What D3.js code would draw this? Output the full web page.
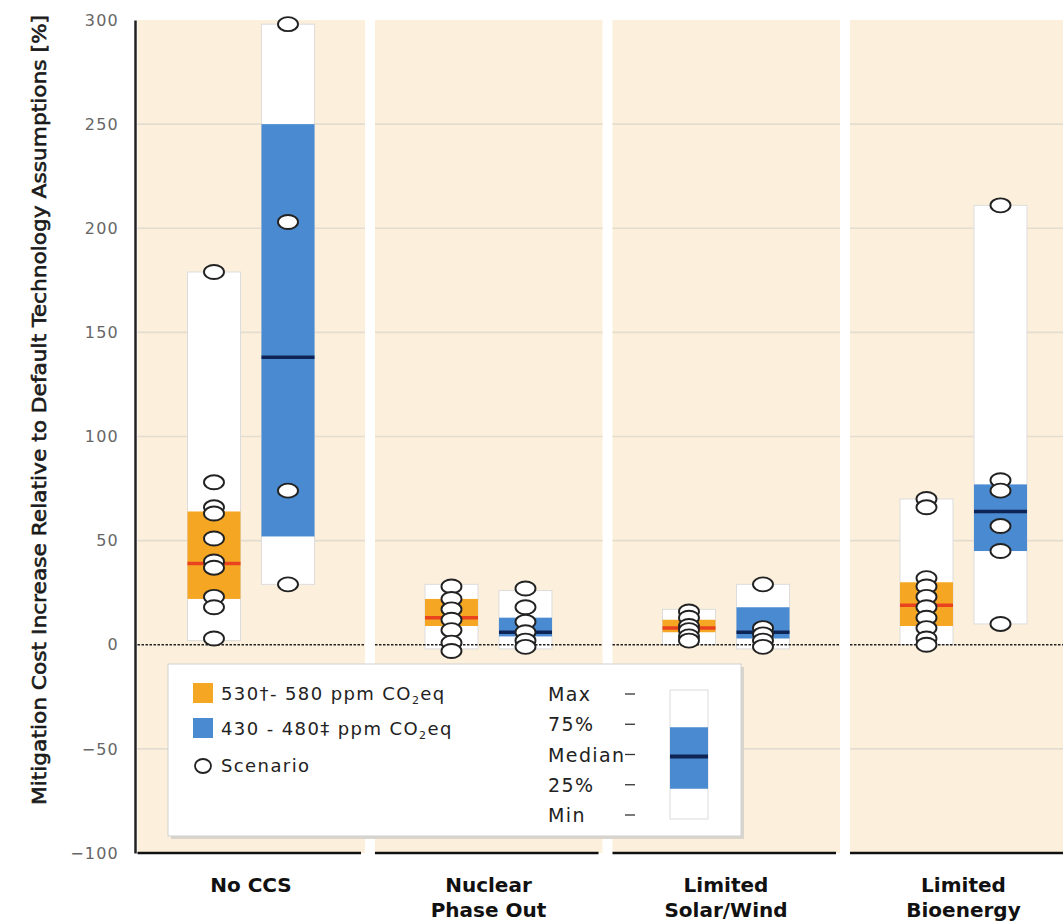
<!DOCTYPE html>
<html>
<head>
<meta charset="utf-8">
<script src="https://cdn.jsdelivr.net/npm/d3@7"></script>
<style>
  body { margin: 0; background: #fff; }
  svg { display: block; }
  .cond { font-family: "DejaVu Sans", sans-serif; }
</style>
</head>
<body>
<div id="chart"></div>
<script>
// categories and series
const categories = ["No CCS", "Nuclear Phase Out", "Limited Solar/Wind", "Limited Bioenergy"];
const categoryLines = [["No CCS"], ["Nuclear", "Phase Out"], ["Limited", "Solar/Wind"], ["Limited", "Bioenergy"]];
const series = ["530-580", "430-480"];

// 530-580 ppm box stats, one per category
const lowMin = [2, -2, 0, 0];
const lowQ1 = [22, 9, 6, 9];
const lowMed = [39, 13, 8, 19];
const lowQ3 = [64, 22, 12, 30];
const lowMax = [179, 29, 17, 70];

// 430-480 ppm box stats
const highMin = [29, -2, -2, 10];
const highQ1 = [52, 4, 3, 45];
const highMed = [138, 6, 6, 64];
const highQ3 = [250, 13, 18, 77];
const highMax = [298, 26, 29, 211];

// individual scenarios
const lowScenarios = [
  [179, 78, 66, 63, 51, 40, 37, 23, 18, 3],
  [28, 22, 17, 12, 7, 1, -3],
  [16, 13, 9, 7, 4, 2],
  [70, 66, 32, 28, 23, 18, 13, 8, 3, 0]
];
const highScenarios = [
  [298, 203, 74, 29],
  [27, 18, 11, 6, 2, -1],
  [29, 8, 5, 2, -1],
  [211, 79, 74, 57, 45, 10]
];

const yTicks = [300, 250, 200, 150, 100, 50, 0, -50, -100];
const legendLevels = ["Max", "75%", "Median", "25%", "Min"];

const colors = {
  "530-580": { fill: "#f5a623", median: "#e8421e" },
  "430-480": { fill: "#4a8ad0", median: "#0e2454" }
};

const width = 1063, height = 923;

const svg = d3.select("#chart").append("svg")
  .attr("width", width)
  .attr("height", height);

const y = d3.scaleLinear().domain([-100, 300]).range([853, 20]);

const x = d3.scaleBand()
  .domain(categories)
  .range([132.5, 1082.5])
  .paddingInner(0.042)
  .paddingOuter(0.021);

const xs = d3.scaleBand()
  .domain(series)
  .range([50, 177])
  .paddingInner(0.284);

// build rows for drawing
const boxes = [];
categories.forEach((c, i) => {
  boxes.push({ cat: c, s: "530-580", min: lowMin[i], q1: lowQ1[i], med: lowMed[i], q3: lowQ3[i], max: lowMax[i], pts: lowScenarios[i] });
  boxes.push({ cat: c, s: "430-480", min: highMin[i], q1: highQ1[i], med: highMed[i], q3: highQ3[i], max: highMax[i], pts: highScenarios[i] });
});

// panel backgrounds
svg.append("g").selectAll("rect")
  .data(categories)
  .join("rect")
  .attr("x", d => x(d))
  .attr("y", y(300))
  .attr("width", x.bandwidth())
  .attr("height", y(-100) - y(300))
  .attr("fill", "#fcf0dd");

// gridlines per panel
const grid = svg.append("g");
categories.forEach(c => {
  grid.selectAll(null)
    .data(yTicks.filter(t => t !== 0 && t !== -100 && t !== 300))
    .join("line")
    .attr("x1", x(c))
    .attr("x2", x(c) + x.bandwidth())
    .attr("y1", d => y(d))
    .attr("y2", d => y(d))
    .attr("stroke", "#e3dccf")
    .attr("stroke-width", 1.6);
});

// boxes
const bx = d => x(d.cat) + xs(d.s);
const bw = xs.bandwidth();
const g = svg.append("g");

g.selectAll("rect.range")
  .data(boxes)
  .join("rect")
  .attr("class", "range")
  .attr("x", bx)
  .attr("y", d => y(d.max))
  .attr("width", bw)
  .attr("height", d => y(d.min) - y(d.max))
  .attr("fill", "#fff")
  .attr("stroke", "#dcdcdc")
  .attr("stroke-width", 1);

g.selectAll("rect.iqr")
  .data(boxes)
  .join("rect")
  .attr("class", "iqr")
  .attr("x", bx)
  .attr("y", d => y(d.q3))
  .attr("width", bw)
  .attr("height", d => y(d.q1) - y(d.q3))
  .attr("fill", d => colors[d.s].fill);

g.selectAll("line.med")
  .data(boxes)
  .join("line")
  .attr("class", "med")
  .attr("x1", bx)
  .attr("x2", d => bx(d) + bw)
  .attr("y1", d => y(d.med))
  .attr("y2", d => y(d.med))
  .attr("stroke", d => colors[d.s].median)
  .attr("stroke-width", 3.5);

// zero line, dotted
categories.forEach(c => {
  svg.append("line")
    .attr("x1", x(c))
    .attr("x2", x(c) + x.bandwidth())
    .attr("y1", y(0))
    .attr("y2", y(0))
    .attr("stroke", "#222")
    .attr("stroke-width", 1.6)
    .attr("stroke-dasharray", "2.5,1.5");
});

// scenario markers
const pts = [];
boxes.forEach(b => b.pts.forEach(v => pts.push({ cat: b.cat, s: b.s, v: v })));
svg.append("g").selectAll("ellipse")
  .data(pts)
  .join("ellipse")
  .attr("cx", d => x(d.cat) + xs(d.s) + bw / 2)
  .attr("cy", d => y(d.v))
  .attr("rx", 10)
  .attr("ry", 7)
  .attr("fill", "#fff")
  .attr("stroke", "#222")
  .attr("stroke-width", 1.9);

// bottom axis segments
categories.forEach(c => {
  svg.append("line")
    .attr("x1", x(c))
    .attr("x2", x(c) + x.bandwidth() - 4)
    .attr("y1", y(-100))
    .attr("y2", y(-100))
    .attr("stroke", "#111")
    .attr("stroke-width", 2.5);
});

// category labels
svg.append("g").selectAll("text")
  .data(categories)
  .join("text")
  .attr("class", "cond")
  .attr("x", d => x(d) + xs("530-580") + (xs("430-480") + bw - xs("530-580")) / 2)
  .attr("y", 892)
  .attr("text-anchor", "middle")
  .attr("font-size", 20)
  .attr("font-weight", "bold")
  .attr("fill", "#111")
  .each(function (d, i) {
    d3.select(this).selectAll("tspan")
      .data(categoryLines[i])
      .join("tspan")
      .attr("x", d3.select(this).attr("x"))
      .attr("dy", (t, j) => j === 0 ? 0 : 25)
      .text(t => t);
  });

// y axis
const yAxis = svg.append("g")
  .attr("transform", "translate(135,0)")
  .call(d3.axisLeft(y).tickValues(yTicks).tickSize(0).tickPadding(16)
    .tickFormat(d => d < 0 ? "\u2212" + Math.abs(d) : d));
yAxis.select(".domain").attr("stroke", "#222").attr("stroke-width", 2.5);
yAxis.selectAll("text")
  .attr("font-family", "DejaVu Sans, sans-serif")
  .attr("font-size", 16)
  .attr("letter-spacing", 1.2)
  .attr("fill", "#666");

svg.append("text")
  .attr("class", "cond")
  .attr("transform", "translate(46,410) rotate(-90)")
  .attr("text-anchor", "middle")
  .attr("font-size", 20)
  .attr("fill", "#1a1a1a")
  .attr("stroke", "#1a1a1a")
  .attr("stroke-width", 0.6)
  .attr("textLength", 790)
  .attr("lengthAdjust", "spacingAndGlyphs")
  .text("Mitigation Cost Increase Relative to Default Technology Assumptions [%]");

// legend
const lg = svg.append("g").attr("transform", "translate(168,664)");
lg.append("rect")
  .attr("x", 3).attr("y", 3)
  .attr("width", 573).attr("height", 172)
  .attr("fill", "#d9d4cc");
lg.append("rect")
  .attr("width", 573).attr("height", 172)
  .attr("fill", "#fff")
  .attr("stroke", "#cfcfcf");

const legendItems = [
  { s: "530-580", pre: "530\u2020- 580  ppm CO", post: "eq" },
  { s: "430-480", pre: "430 - 480\u2021 ppm CO", post: "eq" }
];
legendItems.forEach((it, i) => {
  lg.append("rect")
    .attr("x", 25).attr("y", 19 + i * 35)
    .attr("width", 20).attr("height", 20)
    .attr("fill", colors[it.s].fill);
  const t = lg.append("text")
    .attr("x", 53).attr("y", 36 + i * 35)
    .attr("font-family", "DejaVu Sans, sans-serif")
    .attr("font-size", 18)
    .attr("letter-spacing", 1.4)
    .attr("fill", "#222");
  t.append("tspan").text(it.pre);
  t.append("tspan").attr("font-size", 11).attr("dy", 4).text("2");
  t.append("tspan").attr("dy", -4).text(it.post);
});
lg.append("ellipse")
  .attr("cx", 35).attr("cy", 102)
  .attr("rx", 8).attr("ry", 7)
  .attr("fill", "#fff").attr("stroke", "#222").attr("stroke-width", 1.8);
lg.append("text")
  .attr("x", 53).attr("y", 108)
  .attr("font-family", "DejaVu Sans, sans-serif")
  .attr("font-size", 18)
  .attr("letter-spacing", 1.4)
  .attr("fill", "#222")
  .text("Scenario");

const ly = d3.scalePoint().domain(legendLevels).range([30, 151]);
lg.selectAll("text.lvl")
  .data(legendLevels)
  .join("text")
  .attr("class", "lvl")
  .attr("x", 380)
  .attr("y", d => ly(d) + 7)
  .attr("font-family", "DejaVu Sans, sans-serif")
  .attr("font-size", 19)
  .attr("letter-spacing", 1.4)
  .attr("fill", "#222")
  .text(d => d);
lg.selectAll("line.dash")
  .data(legendLevels)
  .join("line")
  .attr("class", "dash")
  .attr("x1", 457).attr("x2", 467)
  .attr("y1", d => ly(d)).attr("y2", d => ly(d))
  .attr("stroke", "#333").attr("stroke-width", 1.3);
lg.append("rect")
  .attr("x", 502).attr("y", ly("Max") - 4)
  .attr("width", 38).attr("height", ly("Min") - ly("Max") + 8)
  .attr("fill", "#fff").attr("stroke", "#dcdcdc");
lg.append("rect")
  .attr("x", 502).attr("y", ly("75%") + 3)
  .attr("width", 38).attr("height", ly("25%") - ly("75%") + 1)
  .attr("fill", colors["430-480"].fill);
lg.append("line")
  .attr("x1", 502).attr("x2", 540)
  .attr("y1", ly("Median") + 2).attr("y2", ly("Median") + 2)
  .attr("stroke", colors["430-480"].median).attr("stroke-width", 4);
</script>
</body>
</html>
